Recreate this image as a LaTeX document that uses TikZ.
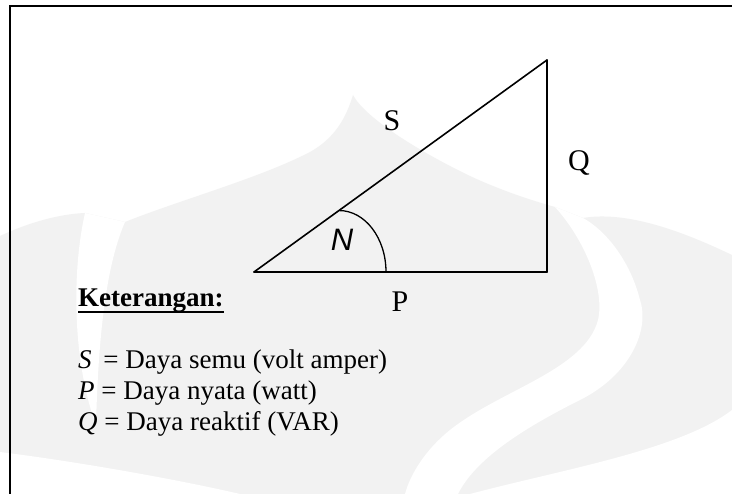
\documentclass[tikz,border=0pt]{standalone}
\usepackage{fontspec}
\setmainfont{Liberation Serif}
\newfontfamily\arialfont{Liberation Sans}
\usetikzlibrary{calc}
\definecolor{wm}{HTML}{F2F2F2}
\tikzset{
  edge/.style={line width=1.6pt, line cap=round, line join=miter},
  lbl/.style={inner sep=0pt, font=\fontsize{30}{34}\selectfont},
  legend/.style={inner sep=0pt, anchor=base west, font=\fontsize{27}{31.5}\selectfont},
  frame/.style={line width=2.2pt}
}
\begin{document}
\begin{tikzpicture}[x=1pt, y=-1pt]
\useasboundingbox (0,0) rectangle (732,494);
% watermark
\fill[white] (0,0) rectangle (732,494);
\fill[wm] (0,494) -- (0,236) .. controls (30,222) and (60,214) .. (85,213)
  -- (125,222) .. controls (180,200) and (260,178) .. (310,152)
  .. controls (335,138) and (346,118) .. (353,95)
  .. controls (365,118) and (420,152) .. (470,176)
  .. controls (500,190) and (530,200) .. (555,207)
  -- (583,218) .. controls (630,210) and (690,235) .. (732,255)
  -- (732,494) -- cycle;
\fill[white] (85,213) .. controls (72,270) and (72,360) .. (96,425)
  .. controls (98,350) and (104,270) .. (125,222) -- cycle;
\fill[white] (555,207) .. controls (585,240) and (605,290) .. (598,320)
  .. controls (585,370) and (500,390) .. (450,430)
  .. controls (425,450) and (410,475) .. (405,494) -- (458,494)
  .. controls (475,460) and (520,430) .. (580,400)
  .. controls (630,375) and (650,330) .. (640,300)
  .. controls (630,260) and (605,230) .. (583,218) -- cycle;
\fill[white] (470,494) .. controls (560,470) and (680,450) .. (732,410) -- (732,494) -- cycle;
\fill[white] (0,452) .. controls (80,462) and (180,480) .. (240,494) -- (0,494) -- cycle;
% frame
\draw[frame] (10,494) -- (10,6) -- (732,6);
% triangle
\coordinate (A) at (254,272);
\coordinate (B) at (547,272);
\coordinate (C) at (547,60);
\draw[edge] (A) -- (B);
\draw[edge] (B) -- (C);
\draw[edge] (C) -- (A);
% angle arc
\coordinate (arcS) at (386,272);
\coordinate (arcE) at ($(A)!0.29!(C)$);
\draw[line width=1.3pt] (arcS) .. controls (386,238) and (365,210.5) .. (arcE);
% labels
\node[lbl] (lS) at (392,121) {S};
\node[lbl] (lQ) at (579,163) {Q};
\node[lbl] (lP) at (400,302) {P};
\node[inner sep=0pt, font=\arialfont\itshape\fontsize{31}{35}\selectfont] (lN) at (342,240) {N};
% legend
\node[legend] (ket) at (78,307) {\textbf{Keterangan:}};
\draw[line width=2pt] ($(ket.base west)+(0,5)$) -- ($(ket.base east)+(0,5)$);
\node[legend] (l1) at (78,369) {\textit{S}\hspace{5pt} = Daya semu (volt amper)};
\node[legend] (l2) at (78,400) {\textit{P} = Daya nyata (watt)};
\node[legend] (l3) at (78,431) {\textit{Q} = Daya reaktif (VAR)};
\end{tikzpicture}
\end{document}
